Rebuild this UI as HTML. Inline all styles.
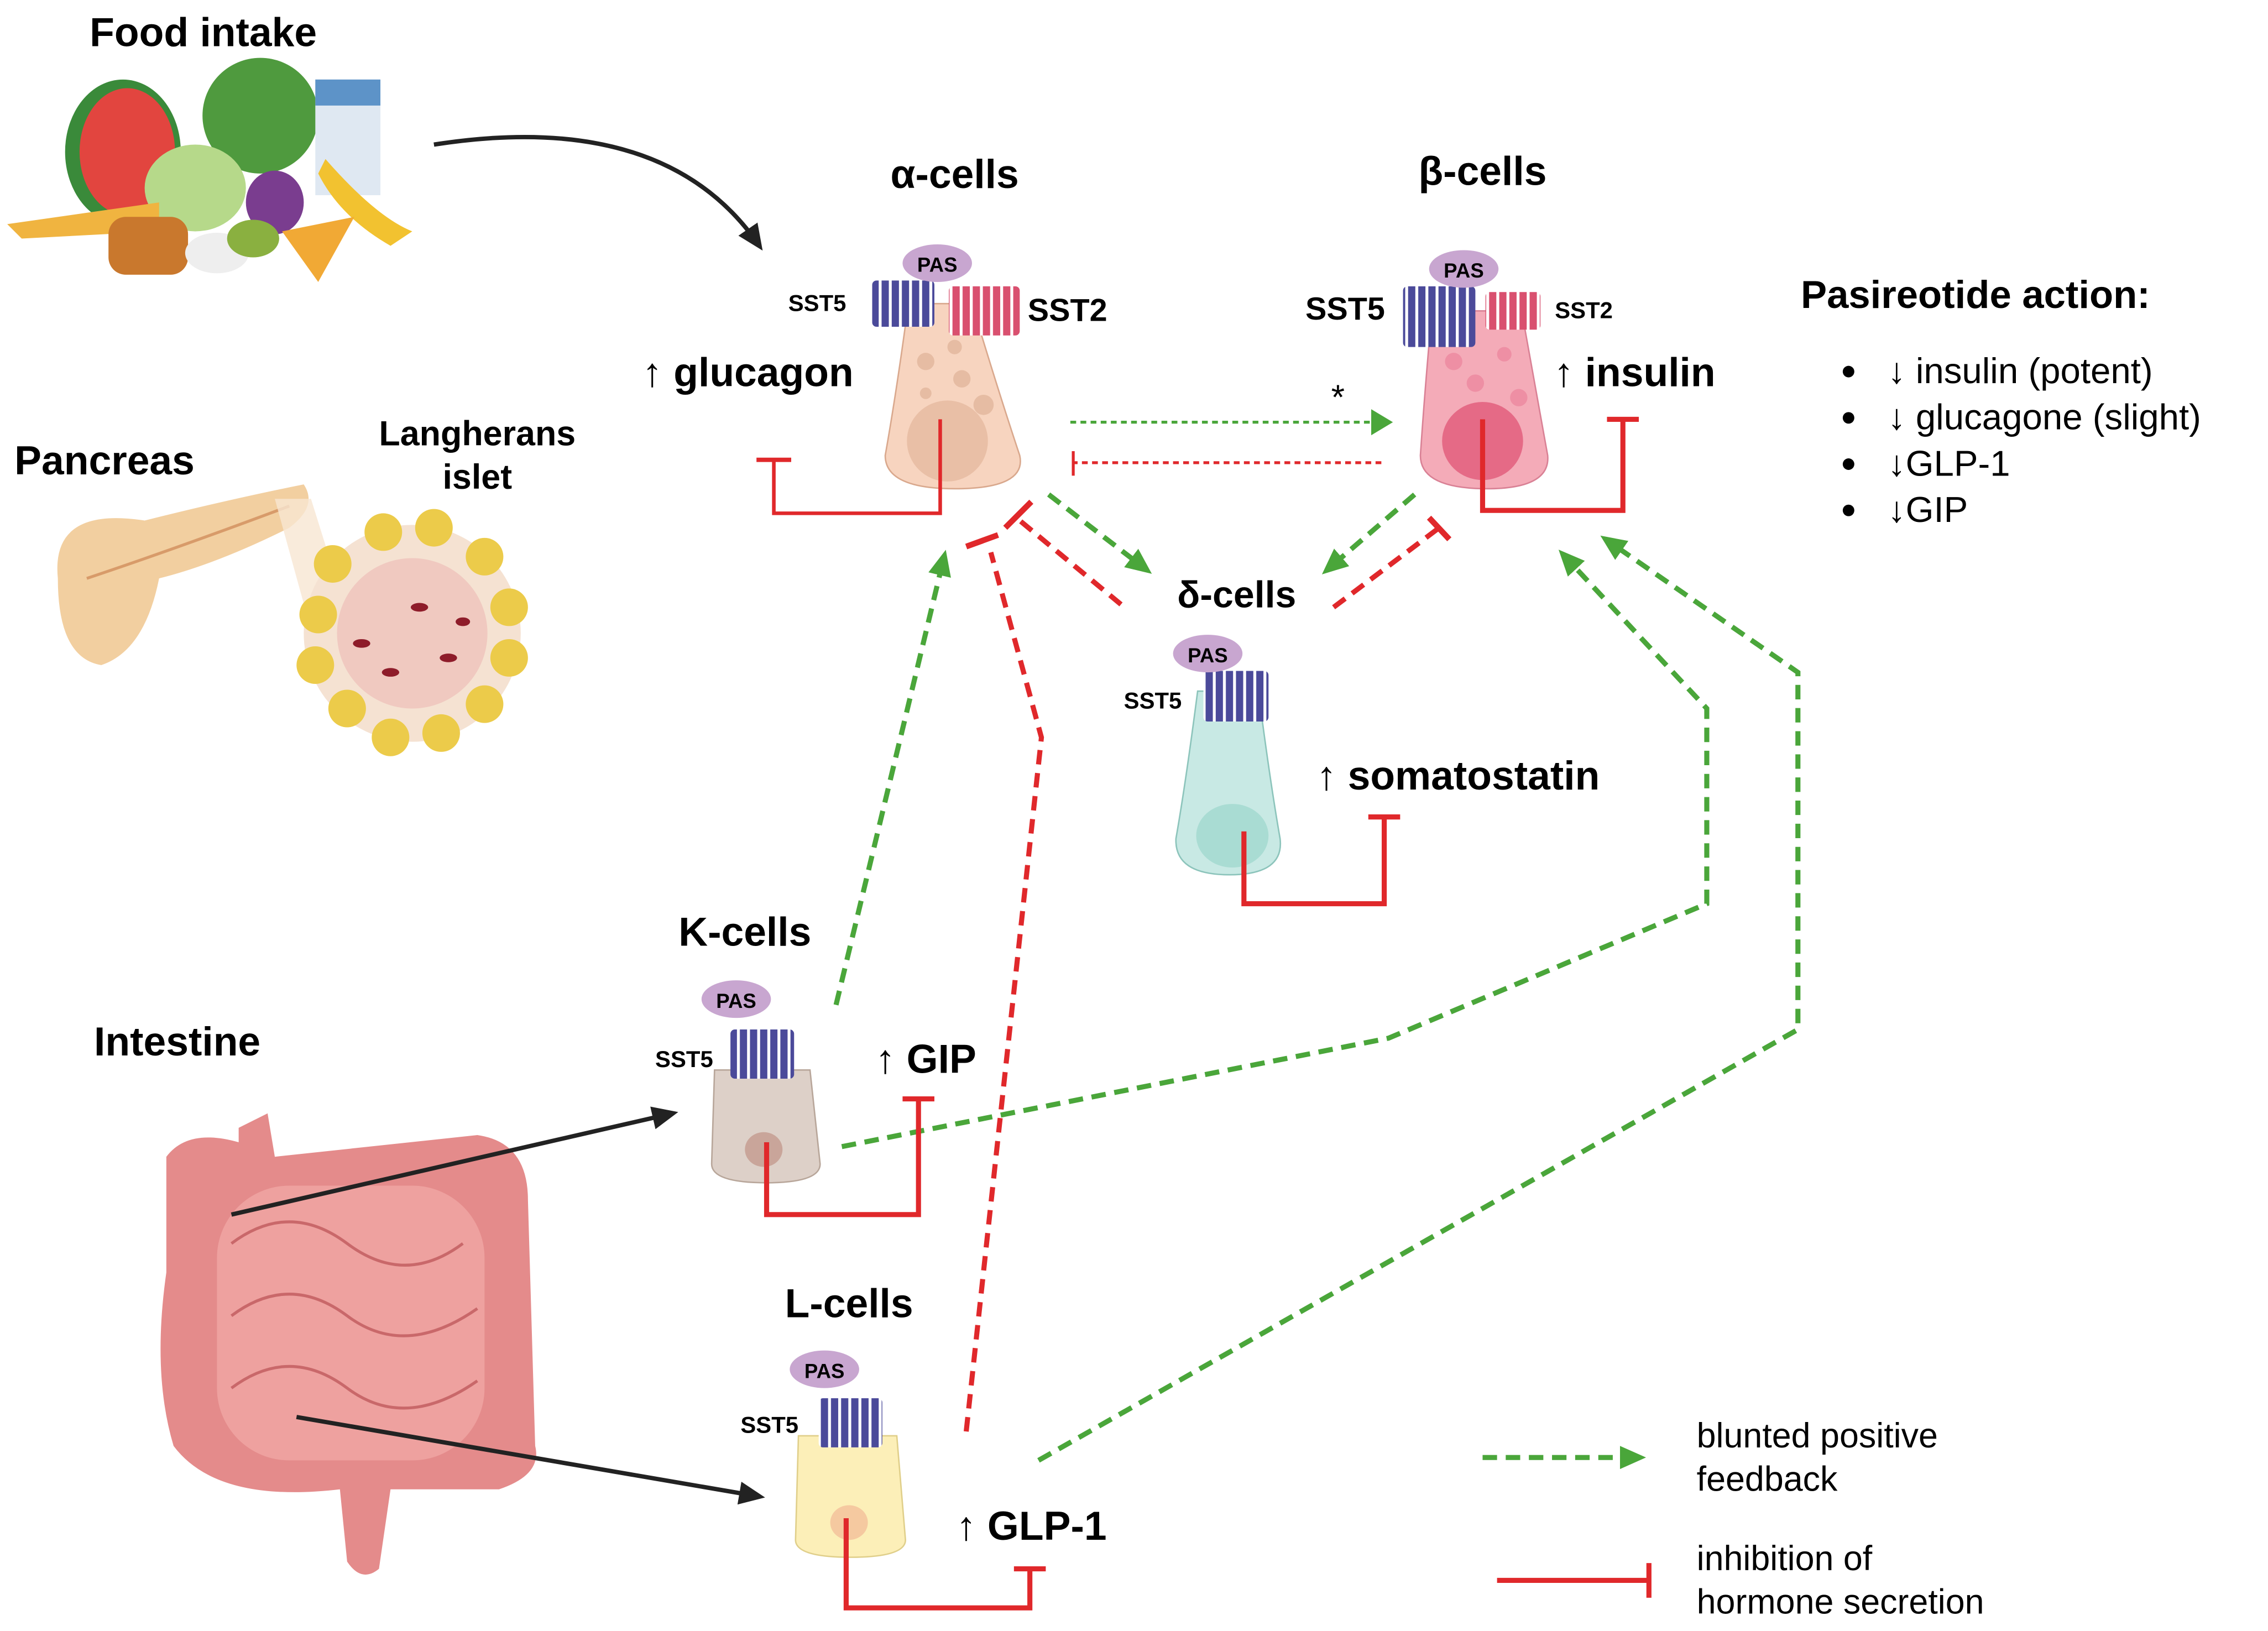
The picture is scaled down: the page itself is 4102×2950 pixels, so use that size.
<!DOCTYPE html>
<html><head><meta charset="utf-8"><style>
html,body{margin:0;padding:0;background:#fff;}
svg{display:block;}
text{font-family:"Liberation Sans",sans-serif;}
.b{font-weight:bold;}
</style></head><body>
<svg width="4102" height="2950" viewBox="0 0 1568 1128" preserveAspectRatio="none" xmlns="http://www.w3.org/2000/svg">
<defs>
<pattern id="pur" width="7" height="10" patternUnits="userSpaceOnUse"><rect width="7" height="10" fill="#fff"/><rect x="0.5" width="5" height="10" fill="#4b4a9a"/></pattern>
<pattern id="red" width="7" height="10" patternUnits="userSpaceOnUse"><rect width="7" height="10" fill="#fff"/><rect x="0.5" width="5" height="10" fill="#d9506f"/></pattern>
<marker id="gA" markerWidth="20" markerHeight="20" refX="10" refY="10" orient="auto" markerUnits="userSpaceOnUse"><path d="M0,2 L18,10 L0,18z" fill="#4aa63a"/></marker>
<marker id="kA" markerWidth="20" markerHeight="20" refX="14" refY="10" orient="auto" markerUnits="userSpaceOnUse"><path d="M0,2 L18,10 L0,18z" fill="#222"/></marker>
</defs>

<text x="62" y="32" font-size="28" class="b">Food intake</text>
<text x="10" y="328" font-size="28" class="b">Pancreas</text>
<text x="330" y="308" font-size="24" class="b" text-anchor="middle">Langherans</text>
<text x="330" y="338" font-size="24" class="b" text-anchor="middle">islet</text>
<text x="65" y="730" font-size="28" class="b">Intestine</text>

<g>
<ellipse cx="85" cy="105" rx="40" ry="50" fill="#3a8a3a"/><ellipse cx="88" cy="105" rx="33" ry="44" fill="#e2453f"/>
<ellipse cx="180" cy="80" rx="40" ry="40" fill="#4f9a3e"/>
<rect x="218" y="55" width="45" height="80" fill="#dfe8f2"/><rect x="218" y="55" width="45" height="18" fill="#5d93c8"/>
<ellipse cx="135" cy="130" rx="35" ry="30" fill="#b6d98a"/>
<ellipse cx="190" cy="140" rx="20" ry="22" fill="#7a3d8f"/>
<path d="M225 110 Q260 150 285 160 L270 170 Q235 150 220 120z" fill="#f2c230"/>
<path d="M5 155 L110 140 L110 160 L15 165z" fill="#f0b440"/>
<rect x="75" y="150" width="55" height="40" rx="12" fill="#c9782d"/>
<ellipse cx="150" cy="175" rx="22" ry="14" fill="#eee"/>
<ellipse cx="175" cy="165" rx="18" ry="13" fill="#8ab040"/>
<path d="M195 160 L245 150 L220 195z" fill="#f1a935"/>
</g>
<path d="M300 100 Q460 75 525 170" fill="none" stroke="#222" stroke-width="3" marker-end="url(#kA)"/>

<path d="M40 400 Q35 350 100 360 Q160 345 210 335 Q220 350 200 365 Q150 390 110 400 Q100 450 70 460 Q40 455 40 400z" fill="#f2cfa0"/>
<path d="M60 400 Q120 380 200 350" stroke="#d89b6a" stroke-width="2" fill="none"/>
<path d="M190 345 L215 345 L265 505 L230 490z" fill="#f8e6d2" opacity="0.8"/>
<g transform="translate(0,25)">
<circle cx="285" cy="413" r="75" fill="#f5e2d2"/>
<circle cx="285" cy="413" r="52" fill="#f0c9c0"/>
<g fill="#eccb4a">
<circle cx="220" cy="400" r="13"/><circle cx="230" cy="365" r="13"/><circle cx="265" cy="343" r="13"/><circle cx="300" cy="340" r="13"/><circle cx="335" cy="360" r="13"/><circle cx="352" cy="395" r="13"/><circle cx="352" cy="430" r="13"/><circle cx="335" cy="462" r="13"/><circle cx="305" cy="482" r="13"/><circle cx="270" cy="485" r="13"/><circle cx="240" cy="465" r="13"/><circle cx="218" cy="435" r="13"/>
</g>
<g fill="#8e1c2a"><ellipse cx="250" cy="420" rx="6" ry="3"/><ellipse cx="290" cy="395" rx="6" ry="3"/><ellipse cx="310" cy="430" rx="6" ry="3"/><ellipse cx="270" cy="440" rx="6" ry="3"/><ellipse cx="320" cy="405" rx="5" ry="3"/></g>
</g>

<path d="M165 780 L185 770 L190 800 L330 785 Q365 790 365 830 L370 1000 Q375 1020 345 1030 L270 1030 L262 1085 Q250 1095 240 1080 L235 1030 Q150 1040 120 1000 Q105 950 115 880 L115 800 Q130 780 165 790z" fill="#e48b8b"/>
<rect x="150" y="820" width="185" height="190" rx="50" fill="#eea19f"/>
<g stroke="#c9686a" stroke-width="2" fill="none"><path d="M160 860 Q200 830 240 860 T320 860"/><path d="M160 910 Q200 880 240 910 T330 905"/><path d="M160 960 Q200 930 240 960 T330 955"/></g>
<line x1="160" y1="840" x2="465" y2="770" stroke="#222" stroke-width="3" marker-end="url(#kA)"/>
<line x1="205" y1="980" x2="525" y2="1035" stroke="#222" stroke-width="3" marker-end="url(#kA)"/>

<g fill="none" stroke-width="3.5" stroke-dasharray="10 6">
<line x1="740" y1="292" x2="950" y2="292" stroke="#4aa63a" stroke-width="2" stroke-dasharray="4 3"/>
<line x1="955" y1="320" x2="742" y2="320" stroke="#e0282b" stroke-width="2" stroke-dasharray="4 3"/>
<line x1="725" y1="342" x2="790" y2="392" stroke="#4aa63a" marker-end="url(#gA)"/>
<line x1="775" y1="418" x2="705" y2="360" stroke="#e0282b"/>
<line x1="978" y1="342" x2="920" y2="392" stroke="#4aa63a" marker-end="url(#gA)"/>
<line x1="922" y1="420" x2="995" y2="365" stroke="#e0282b"/>
<polyline points="668,990 720,510 685,382" stroke="#e0282b"/>
<line x1="578" y1="695" x2="652" y2="388" stroke="#4aa63a" marker-end="url(#gA)"/>
<polyline points="582,793 960,718 1180,625 1180,490 1083,386" stroke="#4aa63a" marker-end="url(#gA)"/>
<polyline points="718,1010 1243,712 1243,465 1113,375" stroke="#4aa63a" marker-end="url(#gA)"/>
<line x1="1025" y1="1008" x2="1130" y2="1008" stroke="#4aa63a" marker-end="url(#gA)"/>
</g>
<path d="M948 283 L963 292 L948 301z" fill="#4aa63a"/>
<line x1="742" y1="312" x2="742" y2="329" stroke="#e0282b" stroke-width="2"/>
<line x1="695" y1="365" x2="713" y2="347" stroke="#e0282b" stroke-width="4"/>
<line x1="988" y1="358" x2="1002" y2="373" stroke="#e0282b" stroke-width="4"/>
<line x1="668" y1="378" x2="690" y2="370" stroke="#e0282b" stroke-width="4"/>
<text x="925" y="283" font-size="24" text-anchor="middle">*</text>

<g>
<path d="M628 210 L672 210 Q690 270 705 315 Q710 338 660 338 Q612 338 612 315 Q620 270 628 210z" fill="#f7d4bf" stroke="#d9a88d" stroke-width="1"/>
<ellipse cx="655" cy="305" rx="28" ry="28" fill="#e9bfa6"/>
<g fill="#e6bca3"><circle cx="640" cy="250" r="6"/><circle cx="660" cy="240" r="5"/><circle cx="665" cy="262" r="6"/><circle cx="640" cy="272" r="4"/><circle cx="680" cy="280" r="7"/></g>
<rect x="603" y="194" width="43" height="32" fill="url(#pur)" rx="3"/>
<rect x="656" y="198" width="49" height="34" fill="url(#red)" rx="3"/>
<ellipse cx="648" cy="182" rx="24" ry="13" fill="#c8a6d0"/>
<text x="648" y="188" font-size="14" class="b" text-anchor="middle">PAS</text>
<polyline points="650,290 650,355 535,355 535,318" fill="none" stroke="#e0282b" stroke-width="2.5"/>
<line x1="523" y1="318" x2="547" y2="318" stroke="#e0282b" stroke-width="3"/>
</g>
<text x="660" y="130" font-size="28" class="b" text-anchor="middle">α-cells</text>
<text x="565" y="215" font-size="16" class="b" text-anchor="middle">SST5</text>
<text x="738" y="222" font-size="22" class="b" text-anchor="middle">SST2</text>
<text x="517" y="267" font-size="28" class="b" text-anchor="middle">↑ glucagon</text>

<g>
<path d="M990 215 L1052 215 Q1062 270 1070 315 Q1072 338 1028 338 Q982 338 982 315 Q985 270 990 215z" fill="#f4abb8" stroke="#d98195" stroke-width="1"/>
<ellipse cx="1025" cy="305" rx="28" ry="27" fill="#e56a86"/>
<g fill="#ee8fa4"><circle cx="1005" cy="250" r="6"/><circle cx="1040" cy="245" r="5"/><circle cx="1020" cy="265" r="6"/><circle cx="1050" cy="275" r="6"/></g>
<rect x="970" y="198" width="50" height="42" fill="url(#pur)" rx="3"/>
<rect x="1027" y="202" width="38" height="26" fill="url(#red)" rx="3"/>
<ellipse cx="1012" cy="186" rx="24" ry="13" fill="#c8a6d0"/>
<text x="1012" y="192" font-size="14" class="b" text-anchor="middle">PAS</text>
<polyline points="1025,290 1025,353 1122,353 1122,290" fill="none" stroke="#e0282b" stroke-width="3.5"/>
<line x1="1111" y1="290" x2="1133" y2="290" stroke="#e0282b" stroke-width="3.5"/>
</g>
<text x="1025" y="128" font-size="28" class="b" text-anchor="middle">β-cells</text>
<text x="930" y="221" font-size="22" class="b" text-anchor="middle">SST5</text>
<text x="1095" y="220" font-size="16" class="b" text-anchor="middle">SST2</text>
<text x="1130" y="267" font-size="28" class="b" text-anchor="middle">↑ insulin</text>

<g>
<path d="M828 478 L870 478 Q878 540 885 580 Q888 605 850 605 Q812 605 813 580 Q820 540 828 478z" fill="#c8e9e4" stroke="#8cc4bb" stroke-width="1"/>
<ellipse cx="852" cy="578" rx="25" ry="22" fill="#a9dcd3"/>
<rect x="832" y="464" width="45" height="35" fill="url(#pur)" rx="3"/>
<ellipse cx="835" cy="452" rx="24" ry="13" fill="#c8a6d0"/>
<text x="835" y="458" font-size="14" class="b" text-anchor="middle">PAS</text>
<polyline points="860,575 860,625 957,625 957,565" fill="none" stroke="#e0282b" stroke-width="3.5"/>
<line x1="946" y1="565" x2="968" y2="565" stroke="#e0282b" stroke-width="3.5"/>
</g>
<text x="855" y="420" font-size="26" class="b" text-anchor="middle">δ-cells</text>
<text x="797" y="490" font-size="16" class="b" text-anchor="middle">SST5</text>
<text x="1008" y="546" font-size="28" class="b" text-anchor="middle">↑ somatostatin</text>

<g>
<path d="M494 740 L560 740 L567 805 Q567 818 530 818 Q492 818 492 805z" fill="#ddd0c8" stroke="#b8a69a" stroke-width="1"/>
<ellipse cx="528" cy="795" rx="13" ry="12" fill="#c9a59a"/>
<rect x="505" y="712" width="44" height="34" fill="url(#pur)" rx="3"/>
<ellipse cx="509" cy="691" rx="24" ry="13" fill="#c8a6d0"/>
<text x="509" y="697" font-size="14" class="b" text-anchor="middle">PAS</text>
<polyline points="530,790 530,840 635,840 635,760" fill="none" stroke="#e0282b" stroke-width="3.5"/>
<line x1="624" y1="760" x2="646" y2="760" stroke="#e0282b" stroke-width="3.5"/>
</g>
<text x="515" y="654" font-size="28" class="b" text-anchor="middle">K-cells</text>
<text x="473" y="738" font-size="16" class="b" text-anchor="middle">SST5</text>
<text x="640" y="742" font-size="28" class="b" text-anchor="middle">↑ GIP</text>

<g>
<path d="M552 993 L620 993 L626 1065 Q626 1077 588 1077 Q550 1077 550 1065z" fill="#fcefb8" stroke="#e0cf8a" stroke-width="1"/>
<ellipse cx="587" cy="1053" rx="13" ry="12" fill="#f5c9a0"/>
<rect x="566" y="967" width="44" height="34" fill="url(#pur)" rx="3"/>
<ellipse cx="570" cy="947" rx="24" ry="13" fill="#c8a6d0"/>
<text x="570" y="953" font-size="14" class="b" text-anchor="middle">PAS</text>
<polyline points="585,1050 585,1112 712,1112 712,1085" fill="none" stroke="#e0282b" stroke-width="3.5"/>
<line x1="701" y1="1085" x2="723" y2="1085" stroke="#e0282b" stroke-width="3.5"/>
</g>
<text x="587" y="911" font-size="28" class="b" text-anchor="middle">L-cells</text>
<text x="532" y="991" font-size="16" class="b" text-anchor="middle">SST5</text>
<text x="713" y="1065" font-size="28" class="b" text-anchor="middle">↑ GLP-1</text>

<text x="1245" y="213" font-size="27" class="b">Pasireotide action:</text>
<g font-size="25">
<circle cx="1278" cy="257" r="4"/><text x="1305" y="265">↓ insulin (potent)</text>
<circle cx="1278" cy="289" r="4"/><text x="1305" y="297">↓ glucagone (slight)</text>
<circle cx="1278" cy="321" r="4"/><text x="1305" y="329">↓GLP-1</text>
<circle cx="1278" cy="353" r="4"/><text x="1305" y="361">↓GIP</text>
</g>

<g font-size="24">
<text x="1173" y="1001">blunted positive</text>
<text x="1173" y="1031">feedback</text>
<text x="1173" y="1086">inhibition of</text>
<text x="1173" y="1116">hormone secretion</text>
</g>
<line x1="1035" y1="1093" x2="1140" y2="1093" stroke="#e0282b" stroke-width="3.5"/>
<line x1="1140" y1="1081" x2="1140" y2="1105" stroke="#e0282b" stroke-width="3.5"/>
</svg>
</body></html>
